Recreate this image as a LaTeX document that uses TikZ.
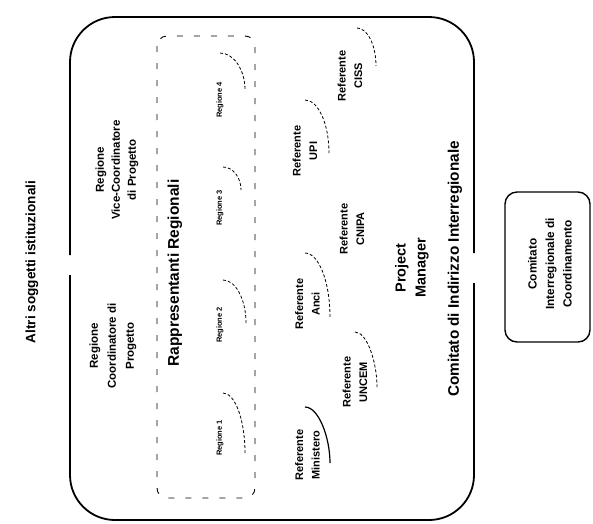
\documentclass[tikz,border=0pt]{standalone}
\usepackage{fontspec}
\setmainfont{Liberation Sans}
\begin{document}
\begin{tikzpicture}[x=1pt,y=-1pt,
  lbl/.style={rotate=90, align=center, inner sep=0pt, font=\bfseries\fontsize{11}{16.5}\selectfont},
  small/.style={rotate=90, inner sep=0pt, font=\bfseries\fontsize{7.5}{9}\selectfont},
  big/.style={rotate=90, inner sep=0pt, font=\bfseries\fontsize{15.3}{18}\selectfont},
  frame/.style={line width=1.8pt, rounded corners=45pt},
  regbox/.style={line width=0.9pt, dash pattern=on 6pt off 11pt, rounded corners=10pt},
  corner/.style={line width=0.8pt, dash pattern=on 3pt off 2pt},
  cornersolid/.style={line width=1.2pt}]
\useasboundingbox (0,0) rectangle (593,523);

% outer frame of the steering committee, open where links leave it
\draw[frame] (70,255) -- (70,17) -- (474,17) -- (474,253);
\draw[frame] (474,283) -- (474,520) -- (70,520) -- (70,275);

% regional representatives group
\draw[regbox] (157,36) rectangle (255,498);

% coordination committee box
\draw[line width=1.4pt, rounded corners=12pt] (505,192) rectangle (590,342);

% labels
\node[lbl, font=\bfseries\fontsize{13.6}{16}\selectfont] (altri) at (32,262) {Altri soggetti istituzionali};

\node[lbl, font=\bfseries\fontsize{11.5}{16}\selectfont] (vice) at (117,170) {Regione\\Vice-Coordinatore\\di Progetto};
\node[lbl, font=\bfseries\fontsize{11.5}{18}\selectfont] (coord) at (113,346) {Regione\\Coordinatore di\\Progetto};

\node[big, font=\bfseries\fontsize{15.5}{18}\selectfont] (rapp) at (175,273) {Rappresentanti Regionali};

\node[small] (r1) at (220,438) {Regione 1};
\node[small] (r2) at (220,325) {Regione 2};
\node[small] (r3) at (220,208) {Regione 3};
\node[small] (r4) at (220,100) {Regione 4};

\node[lbl] (min) at (307.5,455) {Referente\\Ministero};
\node[lbl] (anci) at (307.5,304) {Referente\\Anci};
\node[lbl] (upi) at (305,151) {Referente\\UPI};
\node[lbl] (uncem) at (355,382) {Referente\\UNCEM};
\node[lbl] (cnipa) at (352,229) {Referente\\CNIPA};
\node[lbl] (ciss) at (350,76) {Referente\\CISS};

\node[lbl, font=\bfseries\fontsize{14.5}{20}\selectfont] (pm) at (412,268) {Project\\Manager};

\node[big] (cii) at (455,269) {Comitato di Indirizzo Interregionale};

\node[lbl, font=\bfseries\fontsize{11.8}{17.5}\selectfont] (cic) at (550,264) {Comitato\\Interregionale di\\Coordinamento};

% rounded corners left of the label boxes
\draw[corner] (220,53) .. controls (233.75,53) and (245,69.65) .. (245,90);
\draw[corner] (223,167) .. controls (232.9,167) and (241,177.35) .. (241,190);
\draw[corner] (223,280) .. controls (235.65,280) and (246,299.35) .. (246,323);
\draw[corner] (223,393) .. controls (235.1,393) and (245,420) .. (245,453);
\draw[corner] (357,28) .. controls (367.45,28) and (376,45.1) .. (376,66);
\draw[corner] (305,100) .. controls (318.2,100) and (329,123.85) .. (329,153);
\draw[corner] (305,253) .. controls (318.75,253) and (330,281.8) .. (330,317);
\draw[corner] (355,332) .. controls (367.1,332) and (377,362.25) .. (377,387);
\draw[cornersolid] (305,407) .. controls (318.75,407) and (330,437.8) .. (330,463);
\end{tikzpicture}
\end{document}
